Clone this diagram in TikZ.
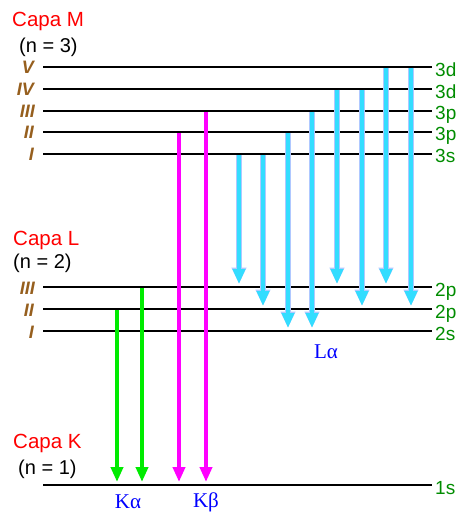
\documentclass[tikz,border=0pt]{standalone}
\usepackage{fontspec}
\setmainfont{Liberation Serif}
\setsansfont{Liberation Sans}
\usetikzlibrary{arrows.meta}
\definecolor{capared}{RGB}{255,0,0}
\definecolor{rombrown}{RGB}{150,95,30}
\definecolor{lvlgreen}{RGB}{0,140,0}
\definecolor{arrgreen}{RGB}{0,235,0}
\definecolor{arrmag}{RGB}{255,0,255}
\definecolor{arrcyan}{RGB}{51,221,255}
\definecolor{arrrim}{RGB}{175,200,255}
\definecolor{txtblue}{RGB}{0,0,255}
\tikzset{
  lvl/.style={line width=2pt, black},
  lvllab/.style={font=\sffamily\fontsize{19}{19}\selectfont, text=lvlgreen, anchor=base west, inner sep=0pt},
  rom/.style={font=\sffamily\bfseries\itshape\fontsize{18}{18}\selectfont, text=rombrown, anchor=base east, inner sep=0pt},
  capa/.style={font=\sffamily\fontsize{20.5}{20.5}\selectfont, text=capared, anchor=base west, inner sep=0pt},
  nlab/.style={font=\sffamily\fontsize{20}{20}\selectfont, text=black, anchor=base west, inner sep=0pt},
  serieslab/.style={font=\fontsize{21}{21}\selectfont, text=txtblue, inner sep=0pt},
  garrow/.style={line width=4pt, arrgreen, -{Triangle[width=12pt,length=15pt]}},
  marrow/.style={line width=4pt, arrmag, -{Triangle[width=12pt,length=15pt]}},
  carrow/.style={line width=4pt, arrcyan, -{Triangle[width=12pt,length=15pt]},
    preaction={draw=arrrim, line width=5.5pt, -{Triangle[width=14pt,length=16.5pt]}}},
}
\begin{document}
\begin{tikzpicture}[x=1pt,y=-1pt]
\useasboundingbox (0,0) rectangle (459,518);
% level lines
\foreach \nm/\yy in {M5/67,M4/89,M3/111,M2/132,M1/154,L3/287,L2/309,L1/331,K1/485}{
  \coordinate (\nm w) at (43,\yy);
  \coordinate (\nm e) at (432,\yy);
  \draw[lvl] (\nm w) -- (\nm e);
}
% level labels right
\node[lvllab] (tM5) at (435,77) {3d};
\node[lvllab] (tM4) at (435,99) {3d};
\node[lvllab] (tM3) at (435,120) {3p};
\node[lvllab] (tM2) at (435,141) {3p};
\node[lvllab] (tM1) at (435,163) {3s};
\node[lvllab] (tL3) at (435,296) {2p};
\node[lvllab] (tL2) at (435,318) {2p};
\node[lvllab] (tL1) at (435,340) {2s};
\node[lvllab] (tK1) at (435,494) {1s};
% roman numerals
\node[rom] (rM5) at (34,74) {V};
\node[rom] (rM4) at (34,96) {IV};
\node[rom] (rM3) at (35,118) {III};
\node[rom] (rM2) at (34,139) {II};
\node[rom] (rM1) at (34,161) {I};
\node[rom] (rL3) at (35,294) {III};
\node[rom] (rL2) at (34,316) {II};
\node[rom] (rL1) at (34,338) {I};
% shell titles
\node[capa] (capaM) at (12,27) {Capa M};
\node[nlab] (nM) at (19,53) {(n = 3)};
\node[capa] (capaL) at (13,245) {Capa L};
\node[nlab] (nL) at (13,268) {(n = 2)};
\node[capa] (capaK) at (13,448) {Capa K};
\node[nlab] (nK) at (18,474) {(n = 1)};
% arrow end points
\coordinate (ga1s) at (117,310); \coordinate (ga1e) at (117,482);
\coordinate (ga2s) at (142,288); \coordinate (ga2e) at (142,482);
\coordinate (ma1s) at (179,133); \coordinate (ma1e) at (179,482);
\coordinate (ma2s) at (206,112); \coordinate (ma2e) at (206,482);
\coordinate (ca1s) at (239,155); \coordinate (ca1e) at (239,284);
\coordinate (ca2s) at (263,155); \coordinate (ca2e) at (263,306);
\coordinate (ca3s) at (288,133); \coordinate (ca3e) at (288,328);
\coordinate (ca4s) at (312,112); \coordinate (ca4e) at (312,328);
\coordinate (ca5s) at (337,90);  \coordinate (ca5e) at (337,284);
\coordinate (ca6s) at (362,90);  \coordinate (ca6e) at (362,306);
\coordinate (ca7s) at (386,68);  \coordinate (ca7e) at (386,284);
\coordinate (ca8s) at (411,68);  \coordinate (ca8e) at (411,306);
\draw[garrow] (ga1s) -- (ga1e);
\draw[garrow] (ga2s) -- (ga2e);
\draw[marrow] (ma1s) -- (ma1e);
\draw[marrow] (ma2s) -- (ma2e);
\foreach \i in {1,...,8}{
  \draw[carrow] (ca\i s) -- (ca\i e);
}
% series labels
\node[serieslab] (Ka) at (128,502) {Kα};
\node[serieslab] (Kb) at (206,502) {Kβ};
\node[serieslab] (La) at (326,352) {Lα};
\end{tikzpicture}
\end{document}
